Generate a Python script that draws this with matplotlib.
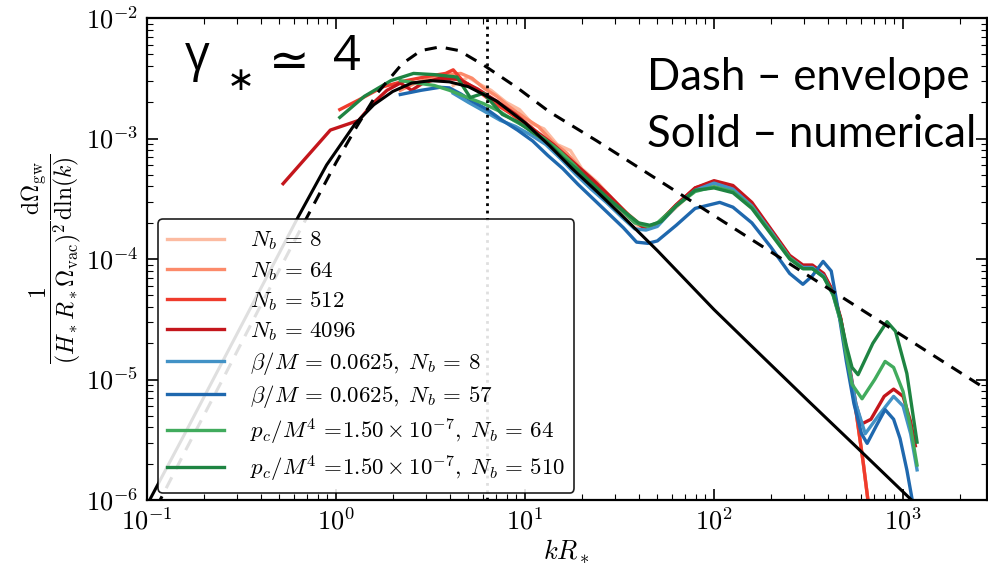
import numpy as np
import matplotlib.pyplot as plt
from matplotlib import ticker

plt.rcParams['mathtext.fontset'] = 'cm'

# values, stored as log10(k R*) and log10(Omega)
env_logk = [-0.95, -0.8, -0.6, -0.4, -0.2, 0.0, 0.11, 0.22, 0.35, 0.45, 0.55, 0.65, 0.78, 0.96, 1.13, 1.38, 2.0, 2.5, 3.0, 3.45]
env_logo = [-6.06, -5.6, -5.0, -4.39, -3.79, -3.2, -2.9, -2.62, -2.38, -2.27, -2.24, -2.27, -2.39, -2.58, -2.78, -3.02, -3.64, -4.14, -4.64, -5.09]

fit_logk = [-1.02, -0.8, -0.6, -0.4, -0.2, -0.05, 0.1, 0.2, 0.3, 0.4, 0.5, 0.6, 0.7, 0.85, 1.0, 1.13, 1.25, 1.38, 1.5, 1.7, 2.0, 2.19, 2.5, 2.76, 3.058]
fit_logo = [-6.1, -5.45, -4.85, -4.25, -3.65, -3.22, -2.88, -2.72, -2.61, -2.54, -2.52, -2.53, -2.57, -2.69, -2.87, -3.06, -3.25, -3.44, -3.62, -3.93, -4.42, -4.71, -5.18, -5.57, -6.02]

nb8_logk = [0.62, 0.70, 0.76, 0.82, 0.90, 0.97, 1.04, 1.10, 1.17, 1.24, 1.30, 1.38, 1.45, 1.52, 1.60, 1.65, 1.70, 1.80, 1.90, 2.00, 2.10, 2.20, 2.30, 2.40, 2.47, 2.52, 2.58, 2.63, 2.67, 2.71, 2.75, 2.79, 2.83]
nb8_logo = [-2.56, -2.49, -2.55, -2.6, -2.7, -2.76, -2.88, -2.92, -3.05, -3.1, -3.25, -3.36, -3.48, -3.6, -3.73, -3.75, -3.72, -3.57, -3.43, -3.38, -3.42, -3.56, -3.77, -3.98, -4.07, -4.06, -4.13, -4.28, -4.5, -4.85, -5.25, -5.7, -6.2]

nb64_logk = [0.34, 0.42, 0.50, 0.58, 0.66, 0.72, 0.78, 0.85, 0.92, 1.0, 1.07, 1.14, 1.22, 1.30, 1.38, 1.46, 1.54, 1.60, 1.65, 1.70, 1.80, 1.90, 2.00, 2.10, 2.20, 2.30, 2.40, 2.47, 2.52, 2.58, 2.63, 2.67, 2.71, 2.75, 2.79, 2.83]
nb64_logo = [-2.6, -2.54, -2.5, -2.47, -2.46, -2.5, -2.58, -2.65, -2.74, -2.83, -2.9, -3.02, -3.12, -3.26, -3.37, -3.5, -3.62, -3.7, -3.74, -3.71, -3.56, -3.42, -3.37, -3.41, -3.55, -3.76, -3.98, -4.06, -4.06, -4.13, -4.28, -4.5, -4.85, -5.25, -5.7, -6.2]

nb512_logk = [0.02, 0.12, 0.25, 0.37, 0.50, 0.58, 0.62, 0.67, 0.73, 0.78, 0.85, 0.92, 1.0, 1.08, 1.16, 1.24, 1.32, 1.40, 1.48, 1.56, 1.62, 1.66, 1.70, 1.80, 1.90, 2.00, 2.10, 2.20, 2.30, 2.40, 2.47, 2.52, 2.58, 2.63, 2.67, 2.71, 2.75, 2.79, 2.83]
nb512_logo = [-2.76, -2.68, -2.57, -2.52, -2.48, -2.46, -2.43, -2.52, -2.58, -2.64, -2.72, -2.79, -2.88, -2.97, -3.09, -3.2, -3.31, -3.43, -3.55, -3.67, -3.73, -3.74, -3.71, -3.55, -3.41, -3.36, -3.4, -3.54, -3.76, -3.98, -4.06, -4.06, -4.13, -4.28, -4.5, -4.85, -5.25, -5.7, -6.2]

nb4096_logk = [-0.28, -0.03, 0.12, 0.2, 0.27, 0.34, 0.40, 0.46, 0.55, 0.65, 0.75, 0.85, 0.95, 1.05, 1.15, 1.25, 1.35, 1.45, 1.55, 1.62, 1.66, 1.70, 1.80, 1.90, 2.00, 2.10, 2.20, 2.30, 2.40, 2.47, 2.52, 2.58, 2.63, 2.67, 2.71, 2.75, 2.78, 2.83, 2.90, 2.95, 3.00, 3.04, 3.065]
nb4096_logo = [-3.375, -2.93, -2.85, -2.7, -2.6, -2.54, -2.6, -2.54, -2.5, -2.51, -2.59, -2.69, -2.8, -2.93, -3.05, -3.19, -3.33, -3.48, -3.64, -3.73, -3.74, -3.71, -3.55, -3.41, -3.35, -3.39, -3.53, -3.75, -3.97, -4.05, -4.05, -4.12, -4.27, -4.49, -4.83, -5.2, -5.37, -5.33, -5.14, -5.08, -5.14, -5.35, -5.55]

beta8_logk = [0.62, 0.70, 0.78, 0.87, 0.95, 1.03, 1.11, 1.19, 1.27, 1.35, 1.43, 1.51, 1.58, 1.64, 1.70, 1.80, 1.90, 2.00, 2.10, 2.20, 2.30, 2.40, 2.47, 2.52, 2.58, 2.63, 2.67, 2.71, 2.75, 2.80, 2.87, 2.95, 3.00, 3.04, 3.074]
beta8_logo = [-2.625, -2.7, -2.77, -2.85, -2.9, -2.97, -3.05, -3.17, -3.3, -3.42, -3.53, -3.65, -3.75, -3.76, -3.73, -3.56, -3.43, -3.37, -3.42, -3.56, -3.77, -3.99, -4.07, -4.07, -4.14, -4.3, -4.52, -4.85, -5.2, -5.45, -5.3, -5.14, -5.22, -5.45, -5.75]

beta57_logk = [0.34, 0.45, 0.55, 0.60, 0.66, 0.72, 0.80, 0.88, 0.96, 1.04, 1.12, 1.20, 1.28, 1.36, 1.44, 1.52, 1.59, 1.65, 1.70, 1.80, 1.90, 2.03, 2.10, 2.20, 2.30, 2.40, 2.47, 2.52, 2.577, 2.62, 2.66, 2.70, 2.74, 2.78, 2.81, 2.86, 2.905, 2.95, 2.984, 3.02, 3.06]
beta57_logo = [-2.635, -2.6, -2.575, -2.58, -2.63, -2.69, -2.76, -2.85, -2.93, -3.02, -3.14, -3.25, -3.38, -3.5, -3.62, -3.74, -3.86, -3.87, -3.85, -3.72, -3.58, -3.53, -3.57, -3.7, -3.9, -4.12, -4.21, -4.14, -4.02, -4.1, -4.45, -4.85, -5.2, -5.45, -5.53, -5.38, -5.25, -5.33, -5.49, -5.75, -6.1]

pc64_logk = [0.34, 0.43, 0.52, 0.60, 0.68, 0.78, 0.86, 0.94, 1.02, 1.10, 1.18, 1.26, 1.34, 1.42, 1.50, 1.58, 1.65, 1.70, 1.80, 1.90, 2.00, 2.10, 2.20, 2.30, 2.40, 2.47, 2.52, 2.58, 2.63, 2.67, 2.70, 2.73, 2.783, 2.85, 2.905, 2.95, 3.00, 3.04, 3.074]
pc64_logo = [-2.52, -2.54, -2.56, -2.6, -2.65, -2.71, -2.77, -2.85, -2.92, -3.0, -3.1, -3.22, -3.36, -3.47, -3.58, -3.7, -3.73, -3.7, -3.56, -3.44, -3.4, -3.44, -3.57, -3.78, -3.99, -4.08, -4.08, -4.15, -4.3, -4.52, -4.8, -5.04, -5.16, -5.0, -4.85, -4.9, -5.1, -5.4, -5.71]

pc510_logk = [0.02, 0.15, 0.29, 0.41, 0.52, 0.64, 0.71, 0.78, 0.88, 0.96, 1.04, 1.12, 1.20, 1.28, 1.36, 1.44, 1.52, 1.60, 1.66, 1.72, 1.80, 1.90, 2.00, 2.10, 2.20, 2.30, 2.40, 2.47, 2.52, 2.58, 2.63, 2.67, 2.70, 2.73, 2.762, 2.84, 2.915, 2.96, 3.02, 3.074]
pc510_logo = [-2.825, -2.65, -2.52, -2.46, -2.47, -2.49, -2.66, -2.625, -2.8, -2.86, -2.95, -3.03, -3.16, -3.26, -3.38, -3.5, -3.6, -3.7, -3.72, -3.69, -3.56, -3.43, -3.41, -3.45, -3.58, -3.79, -4.0, -4.08, -4.08, -4.15, -4.29, -4.5, -4.72, -4.9, -4.96, -4.7, -4.52, -4.6, -4.95, -5.52]

series = [
    (nb8_logk, nb8_logo, '#fcbba1', r'$N_b \,=\, 8$'),
    (nb64_logk, nb64_logo, '#fc8a6a', r'$N_b \,=\, 64$'),
    (nb512_logk, nb512_logo, '#ef3b2c', r'$N_b \,=\, 512$'),
    (nb4096_logk, nb4096_logo, '#c4161c', r'$N_b \,=\, 4096$'),
    (beta8_logk, beta8_logo, '#4292c6', r'$\beta/M \,=\, 0.0625,\; N_b \,=\, 8$'),
    (beta57_logk, beta57_logo, '#1f68ae', r'$\beta/M \,=\, 0.0625,\; N_b \,=\, 57$'),
    (pc64_logk, pc64_logo, '#41ab5d', r'$p_c/M^4 \,=\!1.50 \times 10^{-7},\; N_b \,=\, 64$'),
    (pc510_logk, pc510_logo, '#1e8442', r'$p_c/M^4 \,=\!1.50 \times 10^{-7},\; N_b \,=\, 510$'),
]

k_star = 2 * np.pi

fig = plt.figure(figsize=(9.88, 5.65), dpi=100)
ax = fig.add_axes([147 / 988, 65 / 565, 840 / 988, 482 / 565])

for lk, lo, c, lab in series:
    ax.plot(10 ** np.array(lk), 10 ** np.array(lo), color=c, lw=2.4, label=lab)

ax.plot(10 ** np.array(fit_logk), 10 ** np.array(fit_logo), color='black', lw=2.2)
ax.plot(10 ** np.array(env_logk), 10 ** np.array(env_logo), color='black', lw=2.2, ls=(0, (4, 3)))
ax.axvline(k_star, color='black', ls=':', lw=2)

ax.set_xscale('log')
ax.set_yscale('log')
ax.set_xlim(0.1, 2780)
ax.set_ylim(1e-6, 1e-2)

fmt = ticker.FuncFormatter(lambda v, p: r'$10^{%d}$' % round(np.log10(v)))
ax.xaxis.set_major_formatter(fmt)
ax.yaxis.set_major_formatter(fmt)
ax.xaxis.set_minor_locator(ticker.LogLocator(subs=np.arange(2, 10)))
ax.yaxis.set_minor_locator(ticker.LogLocator(subs=np.arange(2, 10)))
ax.xaxis.set_minor_formatter(ticker.NullFormatter())
ax.yaxis.set_minor_formatter(ticker.NullFormatter())
ax.tick_params(which='both', direction='in', top=True, right=True, labelsize=19, pad=6)
ax.tick_params(which='major', length=8, width=1.2)
ax.tick_params(which='minor', length=4, width=0.8)
for s in ax.spines.values():
    s.set_linewidth(1.6)

ax.set_xlabel(r'$kR_*$', fontsize=19, labelpad=2)
ax.set_ylabel(r'$\dfrac{1}{(H_*R_*\Omega_{\rm vac})^2}\dfrac{\mathrm{d}\Omega_{\rm gw}}{\mathrm{d}\ln(k)}$',
              fontsize=17, labelpad=2)

leg = ax.legend(loc='lower left', bbox_to_anchor=(0.013, 0.015), borderaxespad=0,
                fontsize=16.5, handlelength=2.5, handletextpad=1.1, labelspacing=0.28,
                borderpad=0.4, framealpha=0.88, edgecolor='black', fancybox=True)
leg.get_frame().set_linewidth(1.2)

# gamma_* ~ 4 label, set piece by piece
sans = ['Open Sans', 'DejaVu Sans']
ax.text(0.045, 0.892, 'γ', transform=ax.transAxes, fontsize=35, family=sans, va='baseline')
ax.text(0.112, 0.871, '∗', transform=ax.transAxes, fontsize=24, family='DejaVu Sans',
        ha='center', va='center')
ax.text(0.169, 0.909, '≃', transform=ax.transAxes, fontsize=35, family='DejaVu Sans',
        ha='center', va='center')
ax.text(0.2214, 0.892, '4', transform=ax.transAxes, fontsize=35, family=sans, va='baseline')

ax.text(0.595, 0.851, 'Dash – envelope', transform=ax.transAxes,
        fontsize=31.5, family='Lato', va='baseline')
ax.text(0.595, 0.732, 'Solid – numerical', transform=ax.transAxes,
        fontsize=31.5, family='Lato', va='baseline')

fig.savefig('out.png', dpi=100)
